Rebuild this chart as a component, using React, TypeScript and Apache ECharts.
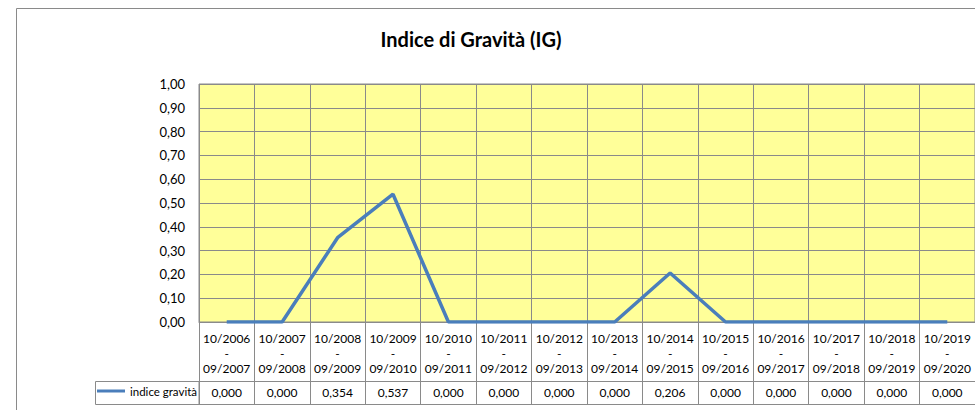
import React, { useEffect, useRef } from "react";
import * as echarts from "echarts";

const titleText = "Indice di Gravità (IG)";
const seriesName = "indice gravità";
const periodStarts = ["10/2006", "10/2007", "10/2008", "10/2009", "10/2010", "10/2011", "10/2012", "10/2013", "10/2014", "10/2015", "10/2016", "10/2017", "10/2018", "10/2019"];
const periodEnds = ["09/2007", "09/2008", "09/2009", "09/2010", "09/2011", "09/2012", "09/2013", "09/2014", "09/2015", "09/2016", "09/2017", "09/2018", "09/2019", "09/2020"];
const values = [0.0, 0.0, 0.354, 0.537, 0.0, 0.0, 0.0, 0.0, 0.206, 0.0, 0.0, 0.0, 0.0, 0.0];

const FONT = "Lato, 'Open Sans', sans-serif";
const GRID_COLOR = "#8a8a8a";
const LINE_COLOR = "#4A7EBB";

export default function App() {
  const ref = useRef<HTMLDivElement>(null);
  useEffect(() => {
    if (!ref.current) return;
    const chart = echarts.init(ref.current, null, { renderer: "svg" });
    const categories = periodStarts.map((s, i) => `${s}\n-\n${periodEnds[i]}`);
    const valueLabels = values.map((v) => v.toFixed(3).replace(".", ","));
    const gridLeft = 199;
    const gridTop = 84;
    const gridBottom = 410 - 322;
    chart.setOption({
      animation: false,
      textStyle: { fontFamily: FONT },
      title: {
        text: titleText,
        left: 466,
        top: 24,
        textAlign: "center",
        textStyle: { fontFamily: FONT, fontSize: 20, fontWeight: "bold", color: "#000" },
      },
      legend: {
        show: true,
        left: 97,
        top: 385,
        padding: 0,
        itemWidth: 28,
        itemHeight: 14,
        itemGap: 0,
        textStyle: { fontFamily: FONT, fontSize: 11.5, color: "#000" },
        data: [{ name: seriesName, icon: "path://M0,5.5 L28,5.5 L28,8.5 L0,8.5 Z" }],
      },
      grid: {
        left: gridLeft,
        right: 0,
        top: gridTop,
        bottom: gridBottom,
        show: true,
        backgroundColor: "#FFFF99",
        borderColor: GRID_COLOR,
        borderWidth: 1,
        containLabel: false,
      },
      xAxis: [
        {
          type: "category",
          data: categories,
          boundaryGap: true,
          position: "bottom",
          axisLine: { show: true, lineStyle: { color: GRID_COLOR, width: 1 } },
          axisTick: { show: true, interval: 0, length: 82, lineStyle: { color: GRID_COLOR, width: 1 } },
          splitLine: { show: true, interval: 0, lineStyle: { color: GRID_COLOR, width: 1 } },
          axisLabel: {
            interval: 0,
            margin: 9,
            fontFamily: FONT,
            fontSize: 12,
            lineHeight: 15,
            color: "#000",
          },
        },
        {
          type: "category",
          data: valueLabels,
          boundaryGap: true,
          position: "bottom",
          offset: 59,
          axisLine: { show: true, lineStyle: { color: GRID_COLOR, width: 1 } },
          axisTick: { show: false },
          splitLine: { show: false },
          axisLabel: { interval: 0, margin: 5, fontFamily: FONT, fontSize: 12, color: "#000" },
        },
        {
          type: "category",
          data: valueLabels,
          boundaryGap: true,
          position: "bottom",
          offset: 82,
          axisLine: { show: true, lineStyle: { color: GRID_COLOR, width: 1 } },
          axisTick: { show: false },
          splitLine: { show: false },
          axisLabel: { show: false },
        },
      ],
      yAxis: {
        type: "value",
        min: 0,
        max: 1,
        interval: 0.1,
        axisLine: { show: false },
        axisTick: { show: false },
        splitLine: { show: true, lineStyle: { color: GRID_COLOR, width: 1 } },
        axisLabel: {
          margin: 14,
          fontFamily: FONT,
          fontSize: 13,
          color: "#000",
          formatter: (v: number) => v.toFixed(2).replace(".", ","),
        },
      },
      series: [
        {
          name: seriesName,
          type: "line",
          xAxisIndex: 0,
          data: values,
          symbol: "none",
          lineStyle: { color: LINE_COLOR, width: 3.5 },
          itemStyle: { color: LINE_COLOR },
        },
      ],
      graphic: [
        {
          type: "rect",
          shape: { x: 16.5, y: 8.5, width: 1000, height: 500 },
          style: { fill: "none", stroke: GRID_COLOR, lineWidth: 1 },
          silent: true,
          z: -10,
        },
        {
          type: "rect",
          shape: { x: 95.5, y: 381.5, width: 103.5, height: 23 },
          style: { fill: "none", stroke: GRID_COLOR, lineWidth: 1 },
          silent: true,
        },
      ],
    });
    return () => chart.dispose();
  }, []);
  return (
    <div
      ref={ref}
      style={{ position: "absolute", left: 0, top: 0, width: 975, height: 410, background: "#fff" }}
    />
  );
}
